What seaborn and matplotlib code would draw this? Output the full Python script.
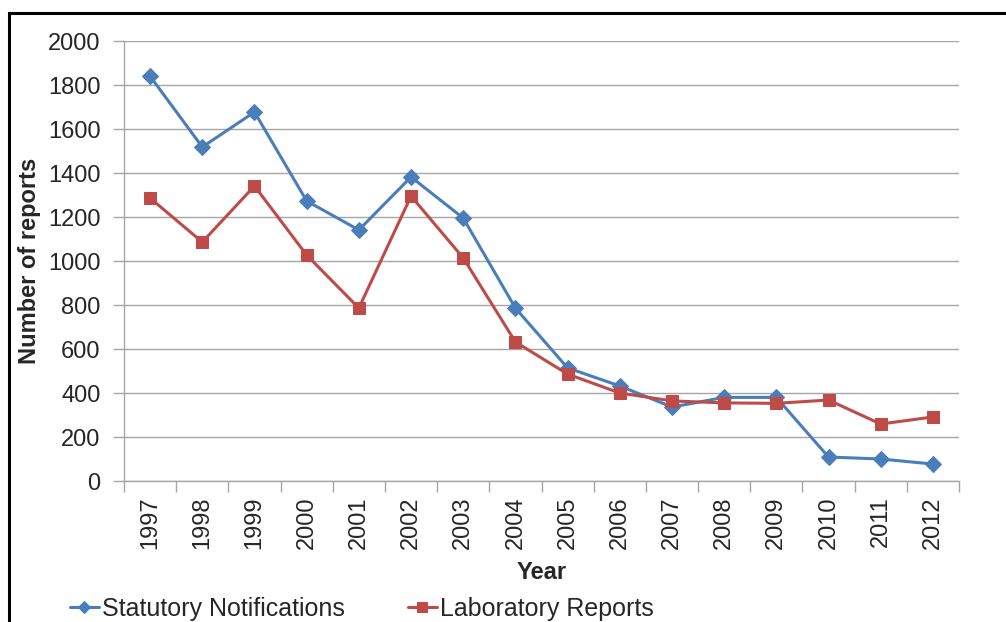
import numpy as np
import pandas as pd
import seaborn as sns
import matplotlib.pyplot as plt
from matplotlib.patches import Rectangle

sns.set_style("white")
plt.rcParams['font.family'] = ['Liberation Sans', 'DejaVu Sans']

# data
years = ["1997", "1998", "1999", "2000", "2001", "2002", "2003", "2004",
         "2005", "2006", "2007", "2008", "2009", "2010", "2011", "2012"]
statutory = [1840, 1518, 1677, 1273, 1141, 1382, 1195, 786,
             514, 432, 336, 380, 380, 109, 100, 77]
laboratory = [1286, 1086, 1341, 1027, 786, 1295, 1014, 632,
              486, 400, 364, 355, 353, 368, 259, 291]

blue = "#4A7EBB"
red = "#BE4B48"
grid_col = "#A6A6A6"

df = pd.DataFrame({"pos": np.arange(len(years)), "stat": statutory, "lab": laboratory})

fig = plt.figure(figsize=(10.06, 6.22), dpi=100)
ax = fig.add_axes([124 / 1006, 1 - 481 / 622, (959 - 124) / 1006, (481 - 41) / 622])

sns.lineplot(data=df, x="pos", y="stat", ax=ax, color=blue, lw=2.2, marker="D",
             markersize=8, markeredgecolor=blue, label="Statutory Notifications", zorder=3)
sns.lineplot(data=df, x="pos", y="lab", ax=ax, color=red, lw=2.2, marker="s",
             markersize=9, markeredgecolor=red, label="Laboratory Reports", zorder=3)

ax.set_xlim(-0.5, len(years) - 0.5)
ax.set_ylim(0, 2000)
ax.set_yticks(np.arange(0, 2001, 200))
ax.set_xticks(np.arange(len(years)))
ax.set_xticklabels(years, rotation=90)
ax.set_xticks(np.arange(-0.5, len(years)), minor=True)
ax.tick_params(axis="x", which="major", length=0, labelsize=17, pad=11)
ax.tick_params(axis="x", which="minor", length=8, width=1, color=grid_col, bottom=True)
ax.tick_params(axis="y", which="major", length=8, width=1, color=grid_col, left=True, labelsize=17, pad=9)

ax.yaxis.grid(True, color=grid_col, lw=1)
ax.xaxis.grid(False)
for s in ["top", "right"]:
    ax.spines[s].set_visible(False)
for s in ["left", "bottom"]:
    ax.spines[s].set_color(grid_col)
    ax.spines[s].set_linewidth(1)

ax.set_xlabel("Year", fontsize=17, fontweight="bold", labelpad=9)
ax.set_ylabel("Number of reports", fontsize=17, fontweight="bold", labelpad=5)

ax.legend(loc="center left", bbox_to_anchor=(60 / 1006, 1 - 609 / 622), bbox_transform=fig.transFigure,
          ncol=2, frameon=False, fontsize=18, columnspacing=2.5, handlelength=1.15,
          handletextpad=0.15, borderaxespad=0, markerscale=0.75)

# outer chart frame, running off the right and bottom edges
fig.patches.append(Rectangle((9 / 1006, -0.1), 1.2, 1 - 13 / 622 + 0.1, transform=fig.transFigure,
                             fill=False, edgecolor="black", lw=2.2, clip_on=False))

fig.savefig("out.png", dpi=100)
